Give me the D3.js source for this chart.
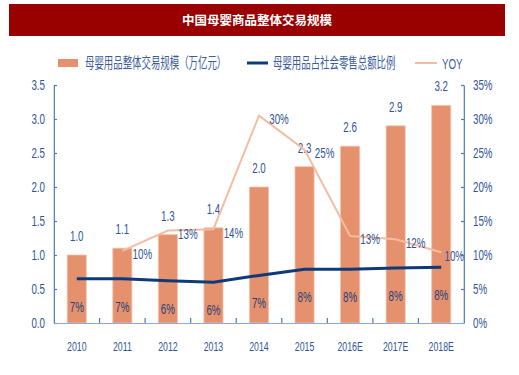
<!DOCTYPE html>
<html><head><meta charset="utf-8">
<script src="https://cdn.jsdelivr.net/npm/d3@7"></script>
<style>
html,body{margin:0;padding:0;background:#fff;}
svg{display:block;}
</style></head>
<body>
<script>
// ---- data ----
const categories = ["2010","2011","2012","2013","2014","2015","2016E","2017E","2018E"];
const marketSize = [1.0, 1.1, 1.3, 1.4, 2.0, 2.3, 2.6, 2.9, 3.2];           // 万亿元
const retailShare = [6.5, 6.5, 6.2, 6.0, 7.0, 7.9, 7.9, 8.1, 8.2];          // %
const retailShareLabels = ["7%","7%","6%","6%","7%","8%","8%","8%","8%"];
const yoy = [null, 10.6, 13.6, 13.8, 30.5, 25.5, 12.8, 12.3, 10.4];          // %
const yoyLabels = ["", "10%", "13%", "14%", "30%", "25%", "13%", "12%", "10%"];
const leftTicks = [0, 0.5, 1.0, 1.5, 2.0, 2.5, 3.0, 3.5];
const rightTicks = [0, 5, 10, 15, 20, 25, 30, 35];
const title = "中国母婴商品整体交易规模";
const legendLabels = ["母婴用品整体交易规模（万亿元）", "母婴用品占社会零售总额比例", "YOY"];

// ---- styles ----
const barColor = "#E5916E", shareColor = "#0E3A78", yoyColor = "#F4BCA3";
const axisText = "#2F5597", labelText = "#2F5597", inBarText = "#23427A";
const numFont = "'Liberation Sans', Arial, sans-serif";
const cjkFont = "'Noto Sans CJK SC', sans-serif";

const W = 519, H = 375, sx = 0.65;
const svg = d3.select("body").append("svg").attr("width", W).attr("height", H);

// title bar
svg.append("rect").attr("x", 9).attr("y", 4).attr("width", 496).attr("height", 32).attr("fill", "#990000");
svg.append("text").attr("x", 257).attr("y", 25).attr("text-anchor", "middle")
  .attr("fill", "#fff").attr("font-family", cjkFont).attr("font-weight", "bold")
  .attr("font-size", 12.5).text(title);

const g = svg.append("g").attr("transform", `scale(${sx},1)`);
const L = 54 / sx, R = 464 / sx, T = 85, B = 323;

const x = d3.scaleBand().domain(categories).range([L, R]).paddingInner(0.58).paddingOuter(0.29);
const cx = d => x(d) + x.bandwidth() / 2;
const yL = d3.scaleLinear().domain([0, 3.5]).range([B, T]);
const yR = d3.scaleLinear().domain([0, 35]).range([B, T]);

// bars
g.selectAll("rect.bar").data(categories).join("rect").attr("class", "bar")
  .attr("x", d => x(d)).attr("width", x.bandwidth())
  .attr("y", (d, i) => yL(marketSize[i])).attr("height", (d, i) => B - yL(marketSize[i]))
  .attr("fill", barColor).attr("stroke", "#F3C4AE").attr("stroke-width", 0.8)
  .attr("vector-effect", "non-scaling-stroke");

// bar labels
g.selectAll("text.barlab").data(categories).join("text").attr("class", "barlab")
  .attr("x", cx).attr("y", (d, i) => yL(marketSize[i]) - 14)
  .attr("text-anchor", "middle").attr("font-family", numFont).attr("font-size", 15)
  .attr("fill", labelText).text((d, i) => marketSize[i].toFixed(1));

// YOY line
const yoyPts = categories.map((c, i) => [c, yoy[i], i]).filter(p => p[1] != null);
g.append("path").datum(yoyPts)
  .attr("d", d3.line().x(p => cx(p[0])).y(p => yR(p[1])))
  .attr("fill", "none").attr("stroke", yoyColor).attr("stroke-width", 2)
  .attr("vector-effect", "non-scaling-stroke");
g.selectAll("text.yoylab").data(yoyPts).join("text").attr("class", "yoylab")
  .attr("x", p => cx(p[0]) + (p[2] === categories.length - 1 ? 13 : 20) / sx)
  .attr("y", p => yR(p[1]) + 8.5)
  .attr("text-anchor", "middle").attr("font-family", numFont).attr("font-size", 15)
  .attr("fill", labelText).text(p => yoyLabels[p[2]]);

// share line
g.append("path").datum(categories)
  .attr("d", d3.line().x(d => cx(d)).y((d, i) => yR(retailShare[i])))
  .attr("fill", "none").attr("stroke", shareColor).attr("stroke-width", 3)
  .attr("vector-effect", "non-scaling-stroke");
g.selectAll("text.sharelab").data(categories).join("text").attr("class", "sharelab")
  .attr("x", cx).attr("y", (d, i) => yR(retailShare[i]) + 33)
  .attr("text-anchor", "middle").attr("font-family", numFont).attr("font-size", 15)
  .attr("fill", inBarText).text((d, i) => retailShareLabels[i]);

// axes
function styleAxis(sel, color, fs) {
  sel.selectAll("path.domain").attr("stroke", color).attr("stroke-width", 1.2).attr("vector-effect", "non-scaling-stroke");
  sel.selectAll(".tick line").attr("stroke", color).attr("stroke-width", 1.2).attr("vector-effect", "non-scaling-stroke");
  sel.selectAll(".tick text").attr("fill", axisText).attr("font-family", numFont).attr("font-size", fs);
}
const axL = g.append("g").attr("transform", `translate(${L},0)`)
  .call(d3.axisLeft(yL).tickValues(leftTicks).tickFormat(d3.format(".1f"))
    .tickSizeInner(-3 / sx).tickSizeOuter(0).tickPadding(9 / sx));
styleAxis(axL, "#4F78B5", 15);
const axR = g.append("g").attr("transform", `translate(${R},0)`)
  .call(d3.axisRight(yR).tickValues(rightTicks).tickFormat(d => d + "%")
    .tickSizeInner(-3 / sx).tickSizeOuter(0).tickPadding(9 / sx));
styleAxis(axR, "#4F78B5", 15);
const axB = g.append("g").attr("transform", `translate(0,${B})`)
  .call(d3.axisBottom(x).tickSize(0).tickPadding(18));
styleAxis(axB, "#8FAAD2", 13.5);
// boundary ticks between categories
const bounds = categories.slice(1).map(c => x(c) - x.step() * x.paddingInner() / 2);
axB.selectAll("line.bt").data(bounds).join("line").attr("class", "bt")
  .attr("x1", d => d).attr("x2", d => d).attr("y1", 0).attr("y2", -5)
  .attr("stroke", "#4F78B5").attr("stroke-width", 1.2).attr("vector-effect", "non-scaling-stroke");

// legend
const lg = g.append("g");
lg.append("rect").attr("x", 58 / sx).attr("y", 59).attr("width", 20 / sx).attr("height", 8).attr("fill", barColor);
lg.append("text").attr("x", 85 / sx).attr("y", 68.5).attr("font-family", cjkFont).attr("font-size", 14.5)
  .attr("fill", "#3A5C9A").text(legendLabels[0]);
lg.append("line").attr("x1", 247 / sx).attr("x2", 268 / sx).attr("y1", 63).attr("y2", 63)
  .attr("stroke", shareColor).attr("stroke-width", 3);
lg.append("text").attr("x", 273 / sx).attr("y", 68.5).attr("font-family", cjkFont).attr("font-size", 14.5)
  .attr("fill", "#3A5C9A").text(legendLabels[1]);
lg.append("line").attr("x1", 415 / sx).attr("x2", 437 / sx).attr("y1", 63).attr("y2", 63)
  .attr("stroke", yoyColor).attr("stroke-width", 2);
lg.append("text").attr("x", 442 / sx).attr("y", 69).attr("font-family", numFont).attr("font-size", 15)
  .attr("fill", "#3A5C9A").text(legendLabels[2]);
</script>
</body></html>
